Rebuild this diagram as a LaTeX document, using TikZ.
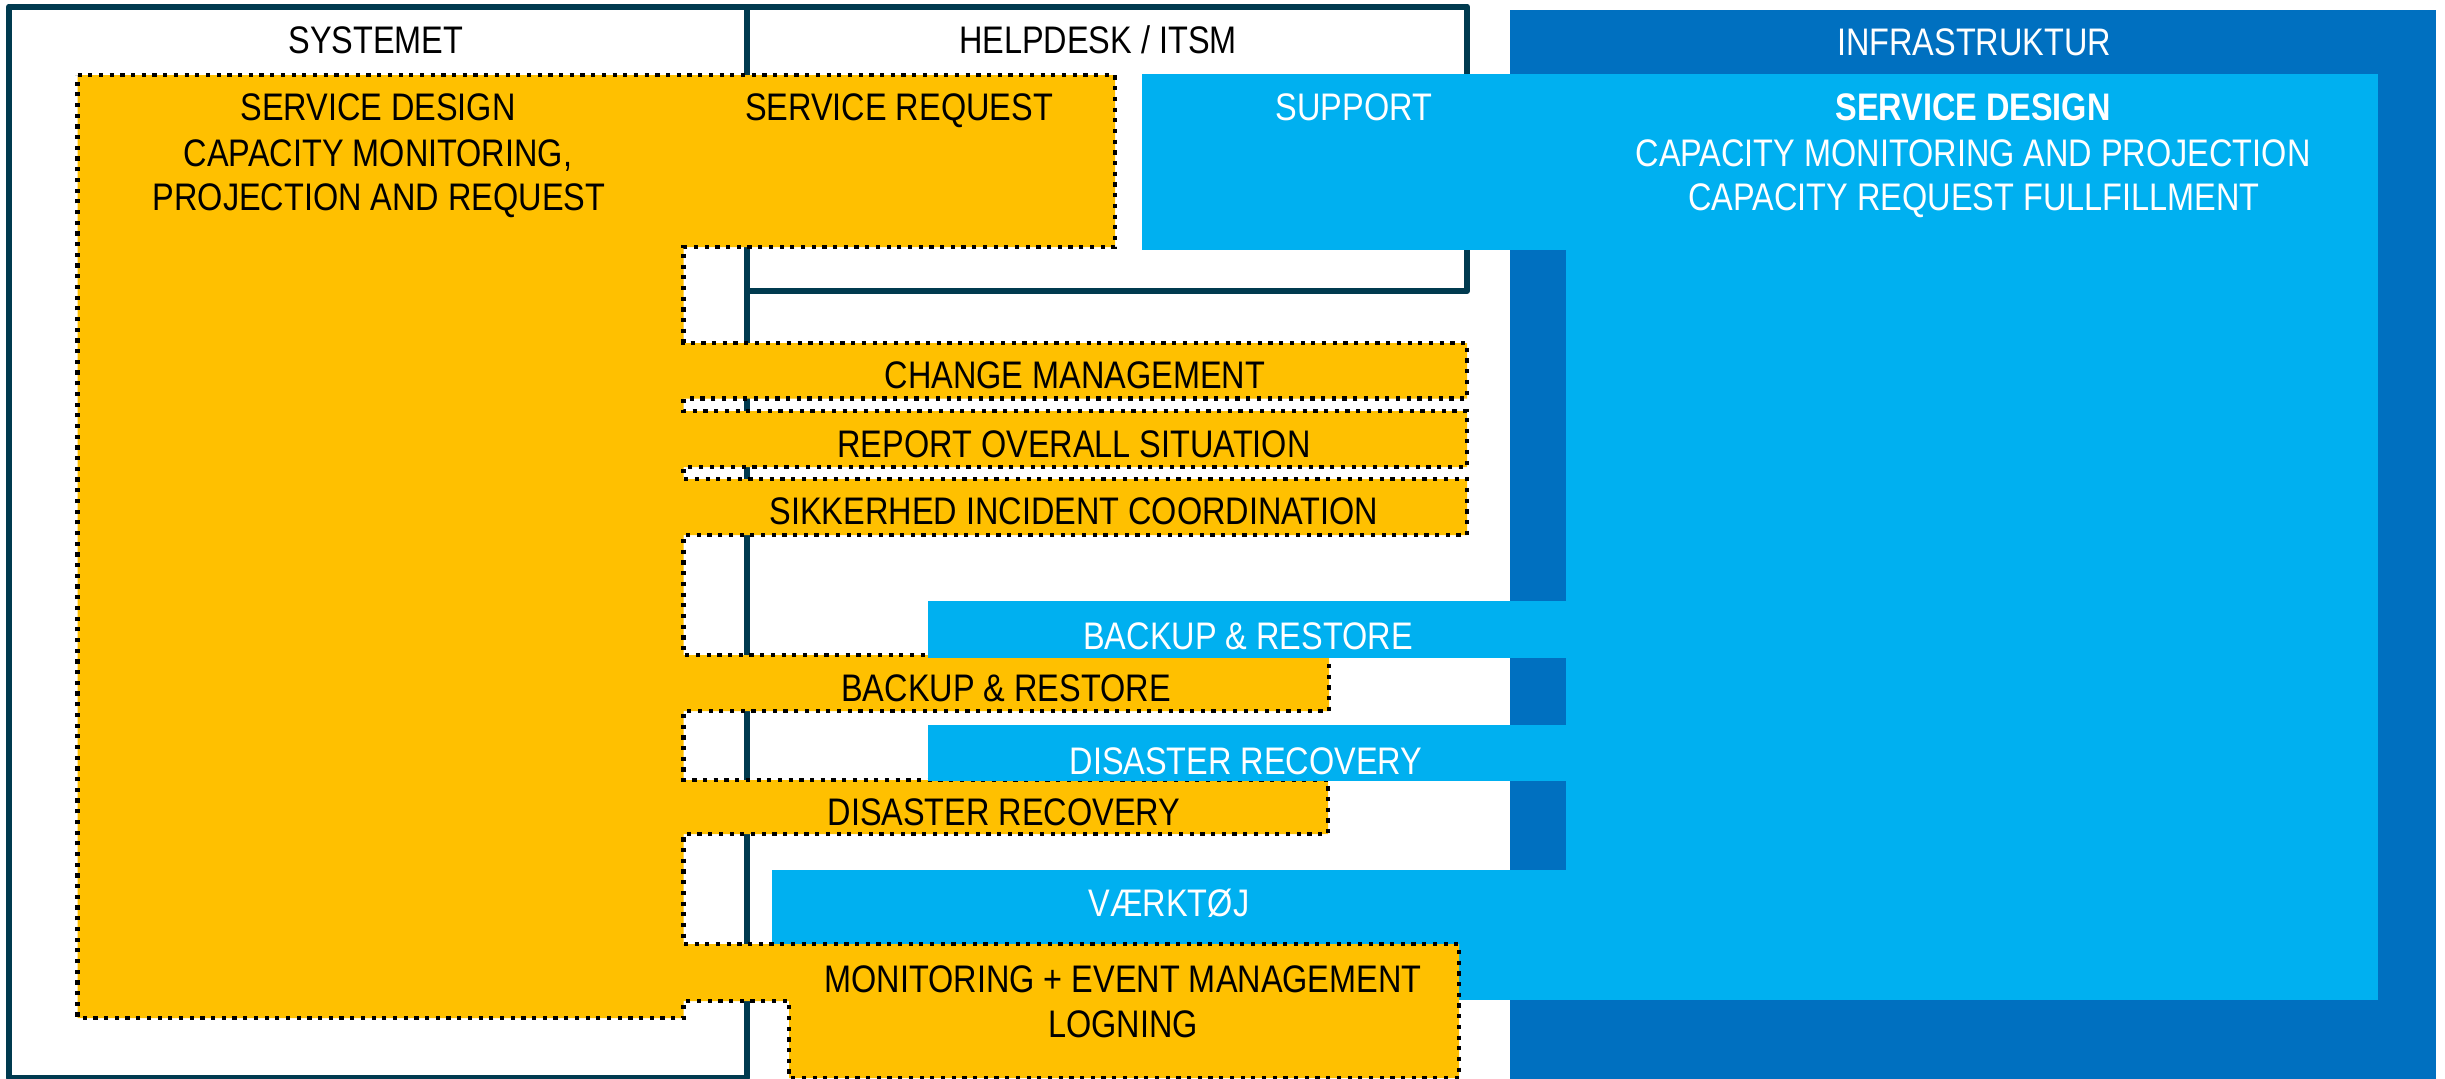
\documentclass[tikz,border=0pt]{standalone}
\usepackage{fontspec}
\setmainfont{Liberation Sans}[FakeStretch=0.845]
\definecolor{gold}{HTML}{FFC000}
\definecolor{lblue}{HTML}{00B0F0}
\definecolor{dblue}{HTML}{0070C0}
\definecolor{navy}{HTML}{003A4F}
\begin{document}
\begin{tikzpicture}[x=1pt,y=-1pt,
  frame/.style={draw=navy, line width=6pt, line join=round},
  yel/.style={fill=gold, draw=black, line width=4.2pt, dash pattern=on 4.2pt off 6.5pt},
  txt/.style={anchor=base, inner sep=0pt, font=\fontsize{38.4}{45}\selectfont},
  wtxt/.style={txt, text=white}]
\useasboundingbox (0,0) rectangle (2445,1079);
\fill[white] (0,0) rectangle (2445,1079);
% frames
\draw[frame] (9,6.5) rectangle (747,1078);
\draw[frame] (747,6.5) -- (1467,6.5) -- (1467,291) -- (747,291);
% infrastructure
\fill[dblue] (1510,10) rectangle (2436,1079);
\fill[lblue] (1566,74) rectangle (2378,1000);
\fill[lblue] (1142,74) rectangle (1566,250);
\fill[lblue] (772,870) rectangle (1566,1000);
% yellow system shape
\draw[yel] (77.5,75) -- (1115,75) -- (1115,247) -- (683.5,247) -- (683.5,343)
  -- (1467,343) -- (1467,398.5) -- (683.5,398.5) -- (683.5,411)
  -- (1467,411) -- (1467,467) -- (683.5,467) -- (683.5,479)
  -- (1467,479) -- (1467,535) -- (683.5,535) -- (683.5,655)
  -- (1329,655) -- (1329,711) -- (683.5,711) -- (683.5,780)
  -- (1328,780) -- (1328,834) -- (683.5,834) -- (683.5,944)
  -- (1459,944) -- (1459,1078) -- (789,1078) -- (789,1001)
  -- (683.5,1001) -- (683.5,1018) -- (77.5,1018) -- cycle;
% blue strips on top
\fill[lblue] (928,601) rectangle (1566,658);
\fill[lblue] (928,725) rectangle (1566,781);
% texts
\node[txt] (tsys) at (376,53) {SYSTEMET};
\node[txt] (thelp) at (1098,53) {HELPDESK / ITSM};
\node[wtxt] (tinfra) at (1974,55) {INFRASTRUKTUR};
\node[txt] (sd1) at (378,120) {SERVICE DESIGN};
\node[txt] (sd2) at (378,166) {CAPACITY MONITORING,};
\node[txt] (sd3) at (379,210) {PROJECTION AND REQUEST};
\node[txt] (tsr) at (899,120) {SERVICE REQUEST};
\node[wtxt] (tsup) at (1354,120) {SUPPORT};
\node[wtxt] (bsd1) at (1973,120) {\bfseries SERVICE DESIGN};
\node[wtxt] (bsd2) at (1973,166) {CAPACITY MONITORING AND PROJECTION};
\node[wtxt] (bsd3) at (1974,210) {CAPACITY REQUEST FULLFILLMENT};
\node[txt] (tchg) at (1075,388) {CHANGE MANAGEMENT};
\node[txt] (trep) at (1074,457) {REPORT OVERALL SITUATION};
\node[txt] (tsik) at (1074,524) {SIKKERHED INCIDENT COORDINATION};
\node[wtxt] (tbrb) at (1248,649) {BACKUP \& RESTORE};
\node[txt] (tbry) at (1006,701) {BACKUP \& RESTORE};
\node[wtxt] (tdrb) at (1246,774) {DISASTER RECOVERY};
\node[txt] (tdry) at (1004,825) {DISASTER RECOVERY};
\node[wtxt] (tvk) at (1169,916) {VÆRKTØJ};
\node[txt] (tmon1) at (1123,992) {MONITORING + EVENT MANAGEMENT};
\node[txt] (tmon2) at (1123,1037) {LOGNING};
\end{tikzpicture}
\end{document}
